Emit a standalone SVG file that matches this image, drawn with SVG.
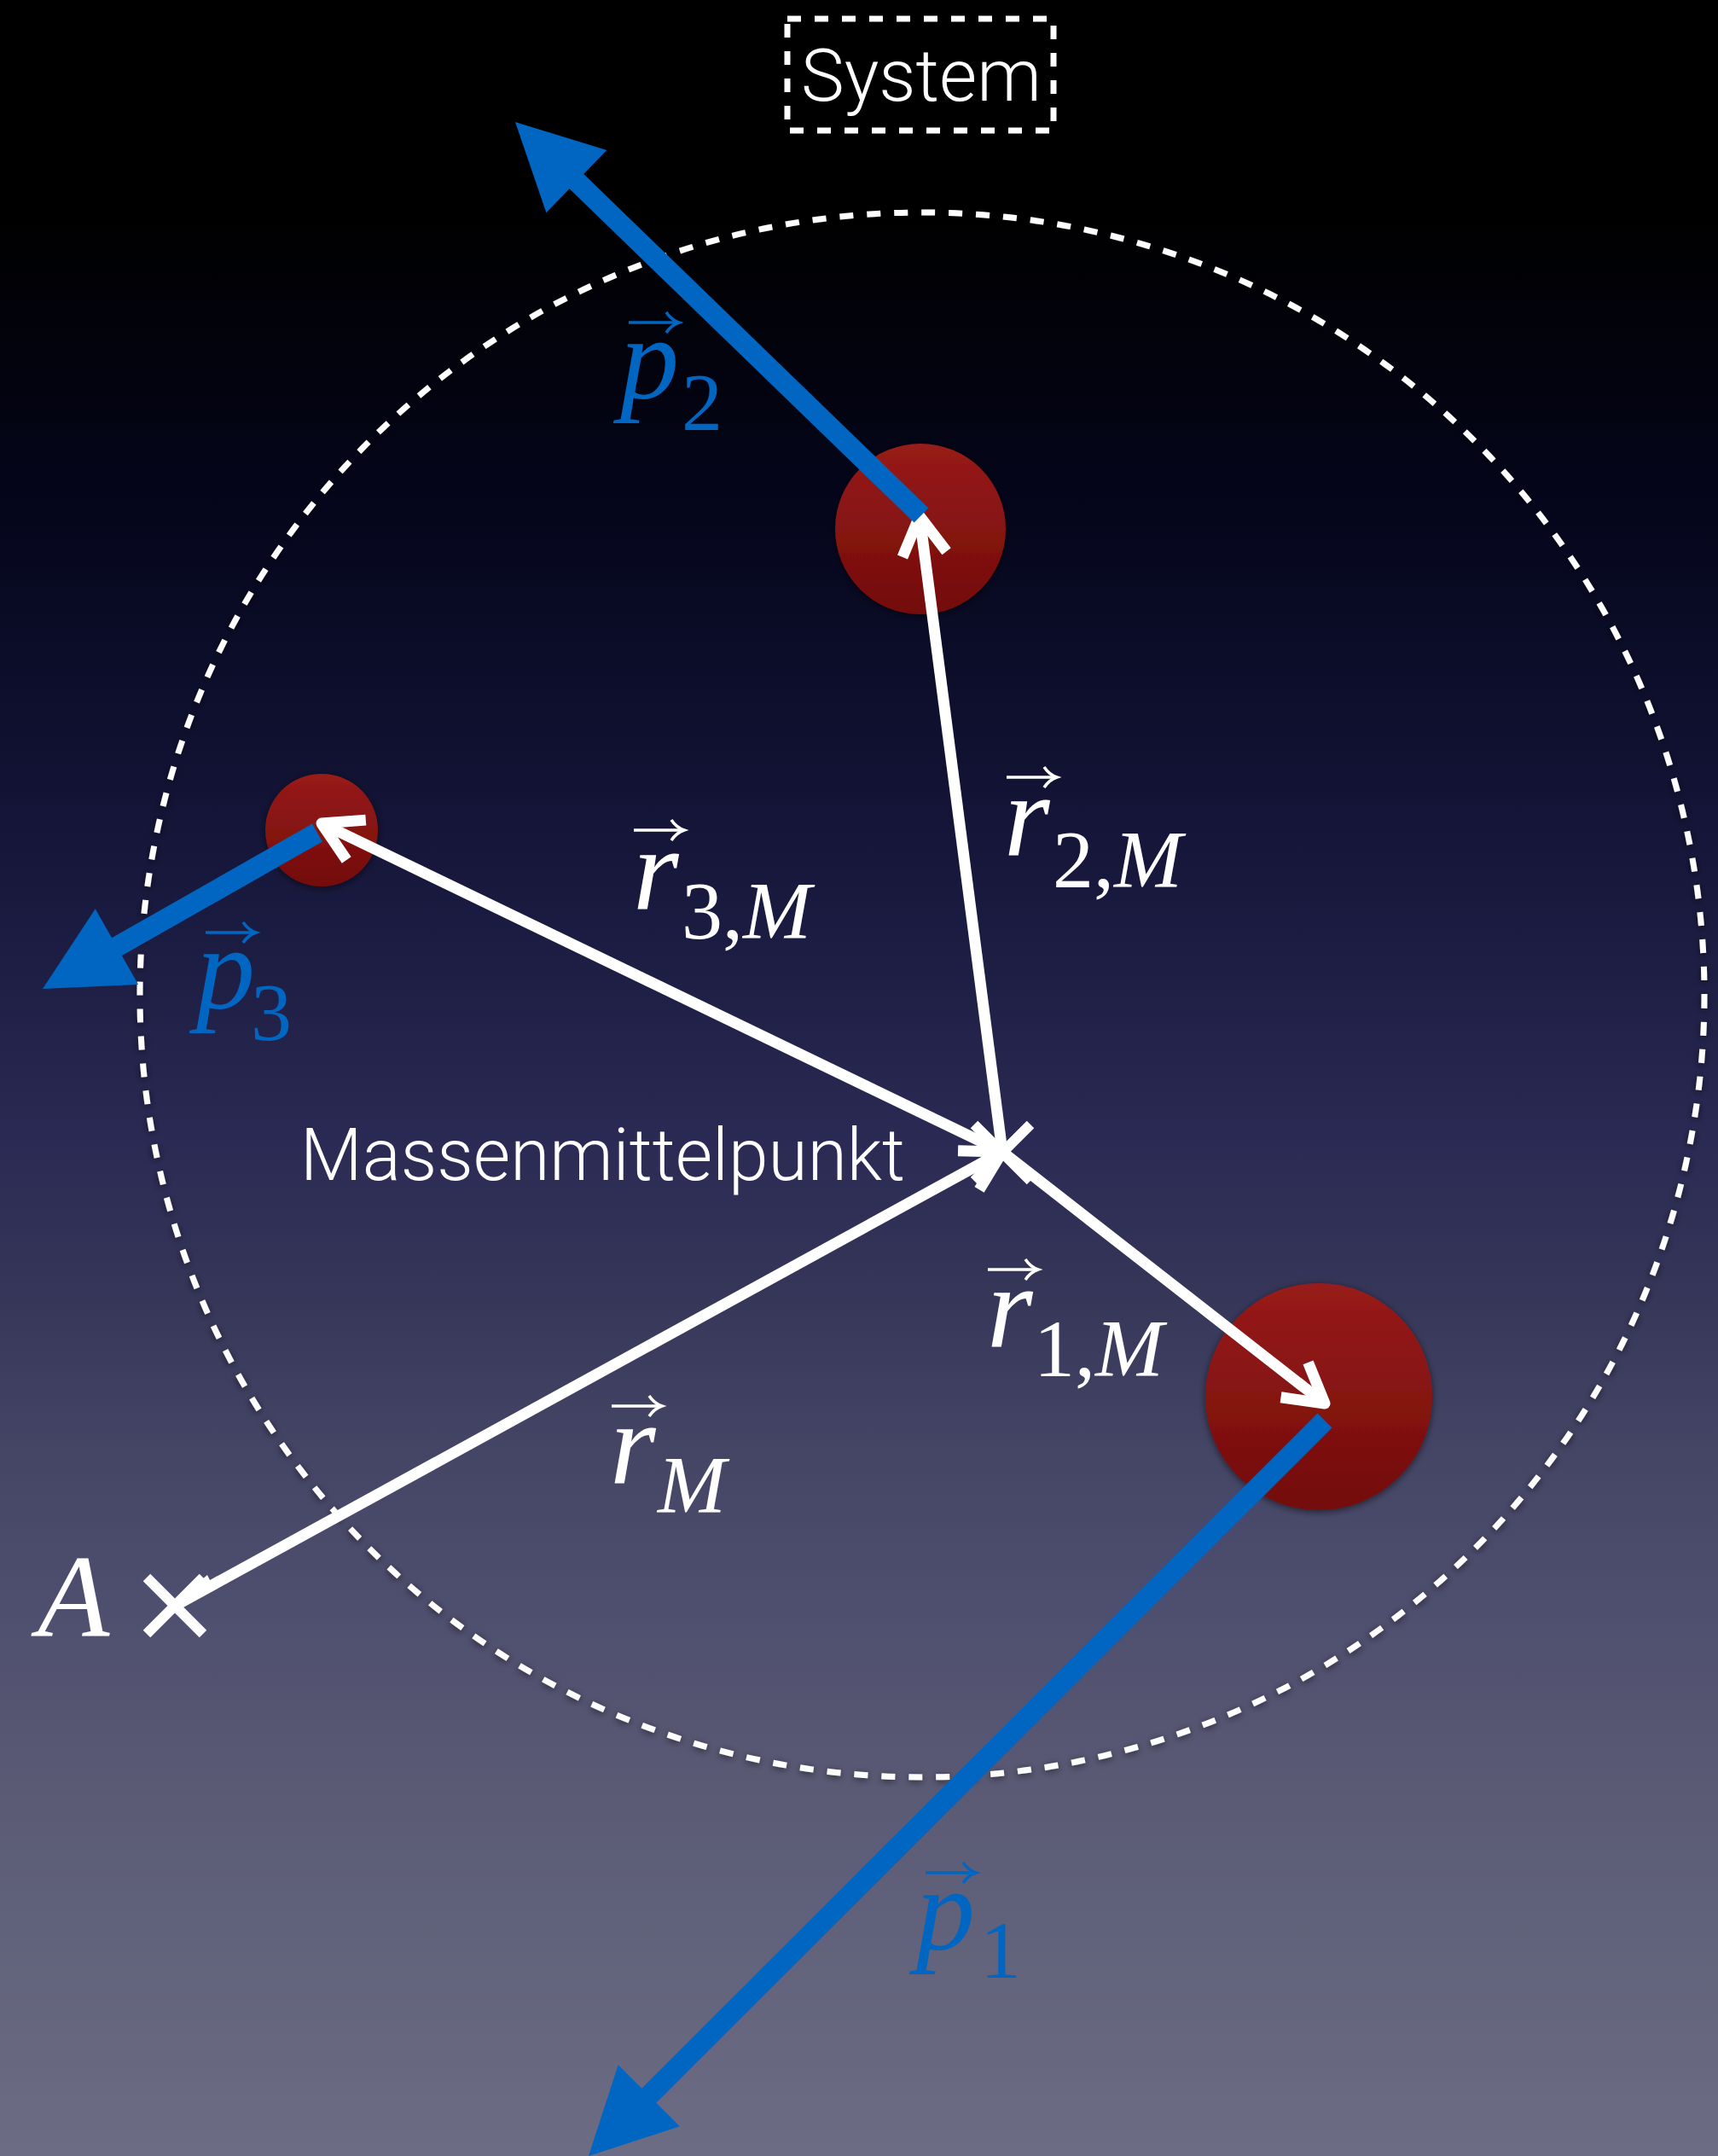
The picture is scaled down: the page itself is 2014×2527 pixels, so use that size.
<svg xmlns="http://www.w3.org/2000/svg" xmlns:xlink="http://www.w3.org/1999/xlink" width="2014" height="2527" viewBox="0 0 2014 2527">
  <defs>
    <linearGradient id="bg" x1="0" y1="0" x2="0" y2="1">
      <stop offset="0" stop-color="#000000"/>
      <stop offset="0.1" stop-color="#000000"/>
      <stop offset="0.24" stop-color="#05061c"/>
      <stop offset="0.4" stop-color="#16173b"/>
      <stop offset="0.53" stop-color="#2a2a54"/>
      <stop offset="0.6" stop-color="#363659"/>
      <stop offset="0.67" stop-color="#444465"/>
      <stop offset="0.745" stop-color="#4e4e6e"/>
      <stop offset="0.83" stop-color="#5a5a75"/>
      <stop offset="1" stop-color="#6c6d84"/>
    </linearGradient>
    <linearGradient id="massfill" x1="0" y1="0" x2="0" y2="1">
      <stop offset="0" stop-color="#981b1a"/>
      <stop offset="1" stop-color="#730c09"/>
    </linearGradient>
    <filter id="shadow" x="-20%" y="-20%" width="140%" height="140%">
      <feDropShadow dx="0" dy="2" stdDeviation="4" flood-color="#000" flood-opacity="0.55"/>
    </filter>
    <marker id="chev" markerUnits="userSpaceOnUse" orient="auto" viewBox="-60 -40 70 80" markerWidth="70" markerHeight="80" refX="0" refY="0">
      <path d="M-45,-26 L0,0 L-45,26" fill="none" stroke="#ffffff" stroke-width="13" stroke-linejoin="round"/>
    </marker>
    <marker id="bhead" markerUnits="userSpaceOnUse" orient="auto" viewBox="-5 -60 110 120" markerWidth="110" markerHeight="120" refX="2" refY="0">
      <path d="M100,0 L0,-51 L0,51 Z" fill="#0066c2"/>
    </marker>
    <g id="vecW">
      <path d="M0,0 H57" stroke="#ffffff" stroke-width="3.5" fill="none"/>
      <path d="M44,-12 Q50,-3 59,0 Q50,3 44,12" stroke="#ffffff" stroke-width="3.5" fill="none"/>
    </g>
    <g id="vecB">
      <path d="M0,0 H57" stroke="#0066c2" stroke-width="3.5" fill="none"/>
      <path d="M44,-12 Q50,-3 59,0 Q50,3 44,12" stroke="#0066c2" stroke-width="3.5" fill="none"/>
    </g>
  </defs>
  <style>
    .sans { font-family: Roboto, "Liberation Sans", "DejaVu Sans", sans-serif; font-weight: 300; fill: #ffffff; }
    .math { font-family: "Liberation Serif", "Times New Roman", "DejaVu Serif", serif; fill: #ffffff; }
    .blue { fill: #0066c2; }
    .it { font-style: italic; }
    .main { font-size: 138px; }
    .sub { font-size: 96px; }
    .dash { fill: none; stroke: #ffffff; stroke-width: 7; stroke-dasharray: 16 16; }
    .rvec { fill: none; stroke: #ffffff; stroke-width: 13; marker-end: url(#chev); }
    .pvec { fill: none; stroke: #0066c2; stroke-width: 24; marker-end: url(#bhead); }
    .cross { stroke: #ffffff; stroke-width: 12; fill: none; }
    .mass { fill: url(#massfill); filter: url(#shadow); }
  </style>

  <rect x="0" y="0" width="2014" height="2527" fill="url(#bg)"/>

  <g id="system-boundary">
    <circle class="dash" cx="1081" cy="1166" r="917" filter="url(#shadow)"/>
  </g>

  <g id="system-label">
    <rect class="dash" x="923" y="22" width="312" height="131"/>
    <text class="sans" x="939" y="118" font-size="85" textLength="282" lengthAdjust="spacingAndGlyphs">System</text>
  </g>

  <g id="mass2"><circle class="mass" cx="1079" cy="620" r="100"/></g>
  <g id="mass3"><circle class="mass" cx="377" cy="973" r="66"/></g>
  <g id="mass1"><circle class="mass" cx="1546" cy="1637" r="133"/></g>

  <g id="connectors">
    <line class="rvec" x1="1175" y1="1350" x2="1078" y2="605"/>
    <line class="rvec" x1="1175" y1="1350" x2="377" y2="965"/>
    <line class="rvec" x1="1175" y1="1350" x2="1553" y2="1645"/>
    <line class="rvec" x1="205" y1="1882" x2="1175" y2="1350"/>
    <polygon points="243,1846 247,1854 207,1877" fill="#ffffff"/>
    <line class="pvec" x1="1080" y1="604" x2="674.4" y2="211.2"/>
    <line class="pvec" x1="372" y1="976" x2="135.2" y2="1110.6"/>
    <line class="pvec" x1="1553" y1="1665" x2="759.3" y2="2457.7"/>
  </g>

  <g id="center-of-mass">
    <line class="cross" x1="1142" y1="1318" x2="1208" y2="1384"/>
    <line class="cross" x1="1142" y1="1384" x2="1208" y2="1318"/>
    <text class="sans" x="352" y="1383" font-size="85" textLength="709" lengthAdjust="spacingAndGlyphs">Massenmittelpunkt</text>
  </g>

  <g id="pointA">
    <line class="cross" x1="172" y1="1849" x2="238" y2="1915"/>
    <line class="cross" x1="172" y1="1915" x2="238" y2="1849"/>
    <text class="math it main" x="44" y="1917">A</text>
  </g>

  <g id="labels">
    <g id="label-r3M">
      <use xlink:href="#vecW" x="743" y="973"/>
      <text class="math main it" x="742" y="1065">r</text>
      <text class="math sub" x="799" y="1100">3,<tspan class="it">M</tspan></text>
    </g>
    <g id="label-r2M">
      <use xlink:href="#vecW" x="1180" y="911"/>
      <text class="math main it" x="1177" y="1002">r</text>
      <text class="math sub" x="1234" y="1040">2,<tspan class="it">M</tspan></text>
    </g>
    <g id="label-r1M">
      <use xlink:href="#vecW" x="1158" y="1488"/>
      <text class="math main it" x="1157" y="1578">r</text>
      <text class="math sub" x="1212" y="1613">1,<tspan class="it">M</tspan></text>
    </g>
    <g id="label-rM">
      <use xlink:href="#vecW" x="717" y="1648"/>
      <text class="math main it" x="715" y="1738">r</text>
      <text class="math sub it" x="771" y="1773">M</text>
    </g>
    <g id="label-p2">
      <use xlink:href="#vecB" x="737" y="378"/>
      <text class="math main it blue" x="727" y="467">p</text>
      <text class="math sub blue" x="799" y="504">2</text>
    </g>
    <g id="label-p3">
      <use xlink:href="#vecB" x="241" y="1093"/>
      <text class="math main it blue" x="230" y="1182">p</text>
      <text class="math sub blue" x="294" y="1219">3</text>
    </g>
    <g id="label-p1">
      <use xlink:href="#vecB" x="1085" y="2195"/>
      <text class="math main it blue" x="1074" y="2285">p</text>
      <text class="math sub blue" x="1149" y="2318">1</text>
    </g>
  </g>
</svg>
